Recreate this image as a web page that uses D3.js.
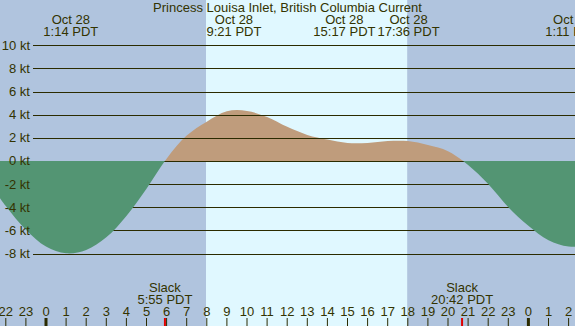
<!DOCTYPE html>
<html>
<head>
<meta charset="utf-8">
<script src="https://cdn.jsdelivr.net/npm/d3@7"></script>
<style>
  html, body { margin: 0; padding: 0; background: #b0c4de; }
  svg { display: block; }
  text { font-family: "Liberation Sans", Arial, sans-serif; font-size: 13px; fill: #333300; }
</style>
</head>
<body>
<div id="chart"></div>
<script>
var width = 575,
  height = 326;

var title = 'Princess Louisa Inlet, British Columbia Current';

// hours since Oct 28 00:00 PDT, and current speed in knots
var hours = [-3, -2, -1, 0, 1, 2, 3, 4, 5, 6, 7, 8, 9, 10, 11, 12, 13, 14, 15, 16, 17, 18, 19, 20, 21, 22, 23, 24, 25, 26, 27];
var knots = [-1.4, -3.9, -5.95, -7.4, -7.98, -7.7, -6.6, -4.75, -2.4, 0.2, 2.2, 3.4, 4.3, 4.33, 3.8, 2.95, 2.25, 1.85, 1.56, 1.56, 1.72, 1.72, 1.38, 0.85, -0.35, -2.0, -4.0, -5.6, -6.85, -7.4, -7.35];

// max ebb / max flood labels along the top
var peakHours = [1.233, 9.35, 15.283, 17.6, 26.18];
var peakDates = ['Oct 28', 'Oct 28', 'Oct 28', 'Oct 28', 'Oct 29'];
var peakTimes = ['1:14 PDT', '9:21 PDT', '15:17 PDT', '17:36 PDT', '1:11 PDT'];

// slack water
var slackHours = [5.917, 20.7];
var slackTimes = ['5:55 PDT', '20:42 PDT'];

// daylight
var sunrise = 7.96,
  sunset = 17.97;

var yTicks = [10, 8, 6, 4, 2, 0, -2, -4, -6, -8];
var hourTicks = d3.range(-2, 27);

var x = d3.scaleLinear().domain([0, 24]).range([46, 528.4]);
var y = d3.scaleLinear().domain([10, -8]).range([45.3, 253.5]);

var svg = d3.select('#chart').append('svg')
  .attr('xmlns', 'http://www.w3.org/2000/svg')
  .attr('width', width)
  .attr('height', height);

// night background and day band
svg.append('rect').attr('width', width).attr('height', height).attr('fill', '#b0c4de');
svg.append('rect')
  .attr('x', x(sunrise)).attr('y', 0)
  .attr('width', x(sunset) - x(sunrise)).attr('height', height)
  .attr('fill', '#e0f8ff');

var defs = svg.append('defs');
defs.append('clipPath').attr('id', 'above')
  .append('rect').attr('x', 0).attr('y', 0).attr('width', width).attr('height', y(0));
defs.append('clipPath').attr('id', 'below')
  .append('rect').attr('x', 0).attr('y', y(0)).attr('width', width).attr('height', height - y(0));

var pts = hours.map(function (h, i) { return [h, knots[i]]; });
var area = d3.area()
  .x(function (d) { return x(d[0]); })
  .y0(y(0))
  .y1(function (d) { return y(d[1]); })
  .curve(d3.curveCatmullRom.alpha(0.5));

// flood
svg.append('path').attr('d', area(pts)).attr('fill', '#bf9c7c').attr('clip-path', 'url(#above)');

// grid lines
svg.append('g').selectAll('line')
  .data(yTicks)
  .enter()
  .append('line')
  .attr('x1', 33).attr('x2', width)
  .attr('y1', function (d) { return Math.round(y(d)) + 0.5; })
  .attr('y2', function (d) { return Math.round(y(d)) + 0.5; })
  .attr('stroke', '#2b2b00')
  .attr('stroke-width', 1);

// ebb (covers the grid)
svg.append('path').attr('d', area(pts)).attr('fill', '#539573').attr('clip-path', 'url(#below)');

// y labels
svg.append('g').selectAll('text')
  .data(yTicks)
  .enter()
  .append('text')
  .attr('x', 30)
  .attr('y', function (d) { return y(d) + 4.5; })
  .attr('text-anchor', 'end')
  .text(function (d) { return d + ' kt'; });

// title
svg.append('text')
  .attr('x', width / 2).attr('y', 12)
  .attr('text-anchor', 'middle')
  .text(title);

// peak labels, nudged apart where they would overlap
var peaks = svg.append('g').selectAll('g')
  .data(peakHours)
  .enter()
  .append('g');
peaks.append('text').attr('y', 24).attr('text-anchor', 'middle').text(function (d, i) { return peakDates[i]; });
peaks.append('text').attr('y', 36).attr('text-anchor', 'middle').text(function (d, i) { return peakTimes[i]; });

var boxes = [];
peaks.each(function (d) {
  var w = 0;
  d3.select(this).selectAll('text').each(function () { w = Math.max(w, this.getComputedTextLength()); });
  boxes.push({ cx: x(d), w: w });
});
for (var i = 0; i < boxes.length - 1; i++) {
  var a = boxes[i], b = boxes[i + 1];
  var need = (a.w + b.w) / 2 + 2;
  var gap = b.cx - a.cx;
  if (gap < need) {
    a.cx -= (need - gap) / 2;
    b.cx += (need - gap) / 2;
  }
}
peaks.attr('transform', function (d, i) { return 'translate(' + boxes[i].cx + ',0)'; });

// slack labels
var slack = svg.append('g').selectAll('g')
  .data(slackHours)
  .enter()
  .append('g')
  .attr('transform', function (d) { return 'translate(' + x(d) + ',0)'; });
slack.append('text').attr('y', 292).attr('text-anchor', 'middle').text('Slack');
slack.append('text').attr('y', 304).attr('text-anchor', 'middle').text(function (d, i) { return slackTimes[i]; });

// hour axis
var hourAxis = svg.append('g');
hourAxis.selectAll('text')
  .data(hourTicks)
  .enter()
  .append('text')
  .attr('x', function (d) { return x(d); })
  .attr('y', 316)
  .attr('text-anchor', 'middle')
  .text(function (d) { return ((d % 24) + 24) % 24; });
hourAxis.selectAll('line')
  .data(hourTicks)
  .enter()
  .append('line')
  .attr('x1', function (d) { return x(d); })
  .attr('x2', function (d) { return x(d); })
  .attr('y1', 318).attr('y2', height)
  .attr('stroke', '#2b2b00')
  .attr('stroke-width', function (d) { return d % 24 === 0 ? 3 : 1; });
hourAxis.append('g').selectAll('line')
  .data(slackHours)
  .enter()
  .append('line')
  .attr('x1', function (d) { return x(d); })
  .attr('x2', function (d) { return x(d); })
  .attr('y1', 318).attr('y2', height)
  .attr('stroke', '#e00000')
  .attr('stroke-width', 2);
</script>
</body>
</html>
